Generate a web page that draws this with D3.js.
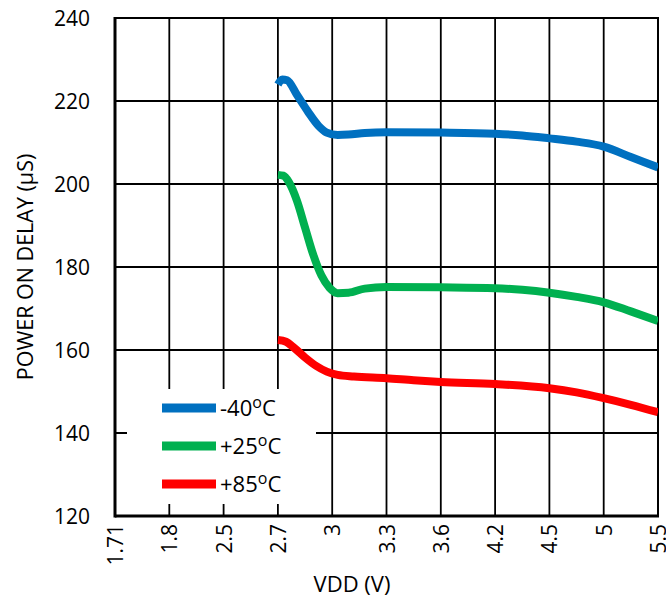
<!DOCTYPE html>
<html>
<head>
<meta charset="utf-8">
<script src="https://cdn.jsdelivr.net/npm/d3@7"></script>
<style>
  html, body { margin: 0; padding: 0; background: #fff; }
  text { font-family: "Open Sans", "Liberation Sans", sans-serif; fill: #000; }
</style>
</head>
<body>
<div id="chart"></div>
<script>
// category axis: evenly spaced VDD labels
const vddLabels = ["1.71", "1.8", "2.5", "2.7", "3", "3.3", "3.6", "4.2", "4.5", "5", "5.5"];
const yTicks = [120, 140, 160, 180, 200, 220, 240];

// [position along category axis, delay in µS]
const minus40 = [
  [3.0, 224], [3.08, 225.2], [3.17, 225], [3.35, 221.5], [3.55, 217.5], [3.75, 214],
  [3.9, 212.4], [4.1, 211.8], [4.3, 211.9], [4.6, 212.3], [5, 212.5], [6, 212.4],
  [7, 212.1], [7.5, 211.7], [8, 211], [8.5, 210.2], [9, 209], [9.5, 206.5], [10, 204]
];
const plus25 = [
  [3.0, 202.2], [3.1, 202], [3.2, 200.5], [3.35, 196], [3.5, 189.5], [3.65, 183],
  [3.8, 178], [3.95, 175], [4.1, 173.7], [4.3, 173.8], [4.6, 174.8], [5, 175.2],
  [6, 175.1], [7, 174.9], [7.5, 174.5], [8, 173.8], [8.5, 172.8], [9, 171.5],
  [9.5, 169.3], [10, 167]
];
const plus85 = [
  [3.0, 162.4], [3.15, 162], [3.3, 160.5], [3.5, 158.2], [3.7, 156.2], [3.9, 154.8],
  [4.1, 154], [4.4, 153.6], [5, 153.2], [5.5, 152.7], [6, 152.3], [7, 151.8],
  [8, 150.8], [8.5, 149.8], [9, 148.4], [9.5, 146.8], [10, 145]
];

const seriesNames = ["-40", "+25", "+85"];
const seriesData = [minus40, plus25, plus85];
const seriesColors = ["#0070c0", "#00b050", "#ff0000"];

const width = 666, height = 599;
const plotL = 115, plotR = 658, plotT = 18, plotB = 516;

const svg = d3.select("#chart").append("svg")
  .attr("width", width)
  .attr("height", height);

const x = d3.scaleLinear().domain([0, vddLabels.length - 1]).range([plotL, plotR]);
const y = d3.scaleLinear().domain([120, 240]).range([plotB, plotT]);

// grid
const grid = svg.append("g").attr("stroke", "#000").attr("stroke-width", 1.8);
grid.selectAll("line.v").data(d3.range(1, vddLabels.length - 1)).join("line")
  .attr("class", "v")
  .attr("x1", d => x(d)).attr("x2", d => x(d))
  .attr("y1", plotT).attr("y2", plotB);
grid.selectAll("line.h").data(yTicks.slice(1, -1)).join("line")
  .attr("class", "h")
  .attr("x1", plotL).attr("x2", plotR)
  .attr("y1", d => y(d)).attr("y2", d => y(d));

// legend box hides grid behind it
svg.append("rect")
  .attr("x", 127).attr("y", 389)
  .attr("width", 189).attr("height", 115)
  .attr("fill", "#fff");

// frame
svg.append("rect")
  .attr("x", plotL).attr("y", plotT)
  .attr("width", plotR - plotL).attr("height", plotB - plotT)
  .attr("fill", "none").attr("stroke", "#000").attr("stroke-width", 2);
svg.append("line")
  .attr("x1", plotL).attr("x2", plotL).attr("y1", plotT - 1).attr("y2", plotB + 1.5)
  .attr("stroke", "#000").attr("stroke-width", 3);
svg.append("line")
  .attr("x1", plotL).attr("x2", plotR + 1).attr("y1", plotB).attr("y2", plotB)
  .attr("stroke", "#000").attr("stroke-width", 3);

// curves
svg.append("defs").append("clipPath").attr("id", "plot")
  .append("rect").attr("x", plotL).attr("y", plotT)
  .attr("width", plotR - plotL).attr("height", plotB - plotT);

const line = d3.line()
  .x(d => x(d[0]))
  .y(d => y(d[1]))
  .curve(d3.curveMonotoneX);

svg.append("g").attr("clip-path", "url(#plot)")
  .selectAll("path").data(seriesData).join("path")
  .attr("d", line)
  .attr("fill", "none")
  .attr("stroke", (d, i) => seriesColors[i])
  .attr("stroke-width", 8)
  .attr("stroke-linejoin", "round");

// y tick labels
svg.append("g").selectAll("text").data(yTicks).join("text")
  .attr("x", 90).attr("y", d => y(d))
  .attr("text-anchor", "end")
  .attr("dominant-baseline", "central")
  .attr("font-size", 21)
  .text(d => d);

// x tick labels, rotated
svg.append("g").selectAll("text").data(vddLabels).join("text")
  .attr("transform", (d, i) => `translate(${x(i)},${plotB + 8}) rotate(-90)`)
  .attr("text-anchor", "end")
  .attr("dominant-baseline", "central")
  .attr("font-size", 21)
  .text(d => d);

// axis titles
svg.append("text")
  .attr("x", 352).attr("y", 592)
  .attr("text-anchor", "middle")
  .attr("font-size", 22)
  .text("VDD (V)");
svg.append("text")
  .attr("transform", "translate(24,267) rotate(-90)")
  .attr("text-anchor", "middle")
  .attr("dominant-baseline", "central")
  .attr("font-size", 21.5)
  .text("POWER ON DELAY (μS)");

// legend
const legend = svg.append("g").selectAll("g").data(seriesNames).join("g")
  .attr("transform", (d, i) => `translate(162,${408 + i * 38})`);
legend.append("line")
  .attr("x1", 0).attr("x2", 54)
  .attr("stroke", (d, i) => seriesColors[i])
  .attr("stroke-width", 9);
const lt = legend.append("text")
  .attr("x", 58).attr("y", 8)
  .attr("font-size", 22);
lt.append("tspan").text(d => d);
lt.append("tspan").attr("dy", -8).attr("font-size", 16).text("o");
lt.append("tspan").attr("dy", 8).text("C");
</script>
</body>
</html>
